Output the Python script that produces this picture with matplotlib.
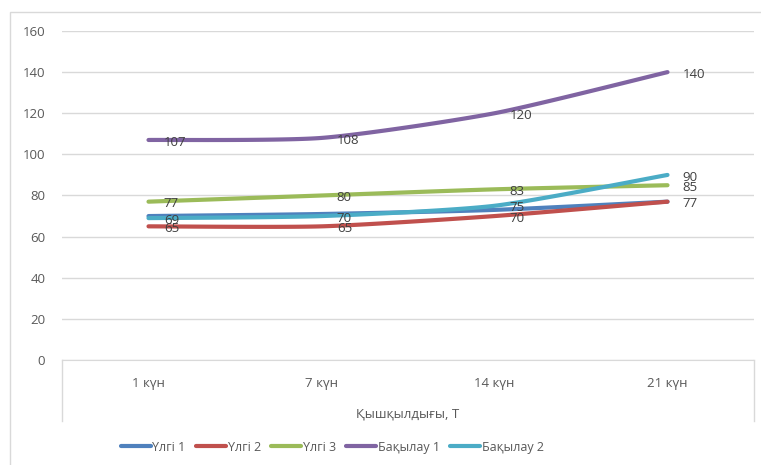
import numpy as np
import matplotlib.pyplot as plt
from matplotlib.lines import Line2D
from matplotlib.patches import Rectangle

categories = ['1 күн', '7 күн', '14 күн', '21 күн']
series_names = ['Үлгі 1', 'Үлгі 2', 'Үлгі 3', 'Бақылау 1', 'Бақылау 2']
ulgi1 = [70, 71, 73, 77]
ulgi2 = [65, 65, 70, 77]
ulgi3 = [77, 80, 83, 85]
bakylau1 = [107, 108, 120, 140]
bakylau2 = [69, 70, 75, 90]
x_title = 'Қышқылдығы, Т'

colors = ['#4F81BD', '#C0504D', '#9BBB59', '#8064A2', '#4BACC6']
show_labels = [False, True, True, True, True]

plt.rcParams['font.family'] = ['Open Sans', 'DejaVu Sans']


def smooth(xs, ys, k=9, n=40):
    # Bezier smoothing between points; k sets how tight the curve is
    xs = np.asarray(xs, float)
    ys = np.asarray(ys, float)
    px = np.concatenate([[xs[0]], xs, [xs[-1]]])
    py = np.concatenate([[ys[0]], ys, [ys[-1]]])
    out_x, out_y = [], []
    t = np.linspace(0, 1, n)
    for i in range(1, len(px) - 2):
        p0 = np.array([px[i], py[i]])
        p3 = np.array([px[i + 1], py[i + 1]])
        p1 = p0 + (np.array([px[i + 1], py[i + 1]]) - np.array([px[i - 1], py[i - 1]])) / k
        p2 = p3 - (np.array([px[i + 2], py[i + 2]]) - np.array([px[i], py[i]])) / k
        b = ((1 - t) ** 3)[:, None] * p0 + (3 * (1 - t) ** 2 * t)[:, None] * p1 \
            + (3 * (1 - t) * t ** 2)[:, None] * p2 + (t ** 3)[:, None] * p3
        out_x.extend(b[:, 0])
        out_y.extend(b[:, 1])
    return out_x, out_y


fig = plt.figure(figsize=(7.61, 4.65), dpi=100)
fig.patches.append(Rectangle((10 / 761, -0.1), 1.0, 1.1 - 12 / 465,
                             transform=fig.transFigure, fill=False,
                             edgecolor='#D9D9D9', lw=1))
ax = fig.add_axes([62 / 761, 105 / 465, 692 / 761, 329 / 465])

x = np.arange(len(categories))
data = [ulgi1, ulgi2, ulgi3, bakylau1, bakylau2]
for vals, c, name, lab in zip(data, colors, series_names, show_labels):
    sx, sy = smooth(x, vals)
    ax.plot(sx, sy, color=c, lw=3, solid_capstyle='round', label=name, zorder=3)
    if lab:
        for xi, v in zip(x, vals):
            ax.annotate(str(v), (xi, v), xytext=(11, -1.5), textcoords='offset points',
                        ha='left', va='center', fontsize=9.5, color='#404040', zorder=4)

ax.set_xlim(-0.5, 3.5)
ax.set_ylim(0, 160)
ax.set_yticks(range(0, 161, 20))
ax.set_xticks(x)
ax.set_xticklabels(categories)
ax.tick_params(axis='both', length=0, labelsize=9.5, labelcolor='#595959')
ax.tick_params(axis='y', pad=12)
ax.tick_params(axis='x', pad=12)
ax.grid(axis='y', color='#D9D9D9', lw=1)
ax.set_axisbelow(True)
for s in ['top', 'left', 'right']:
    ax.spines[s].set_visible(False)
ax.spines['bottom'].set_color('#D9D9D9')

# multi-level category box edges
for xe in (0, 1):
    ax.add_line(Line2D([xe, xe], [0, -61 / 329], transform=ax.transAxes,
                       color='#D9D9D9', lw=1, clip_on=False))
ax.text(0.5, -54 / 329, x_title, transform=ax.transAxes, ha='center', va='center',
        fontsize=9.5, color='#595959')

fig.legend(loc='center', bbox_to_anchor=(332 / 761, 18 / 465), ncol=5, frameon=False,
           fontsize=9, handlelength=2.4, handletextpad=0.15, columnspacing=0.8,
           labelcolor='#595959')

fig.savefig('out.png', dpi=100)
